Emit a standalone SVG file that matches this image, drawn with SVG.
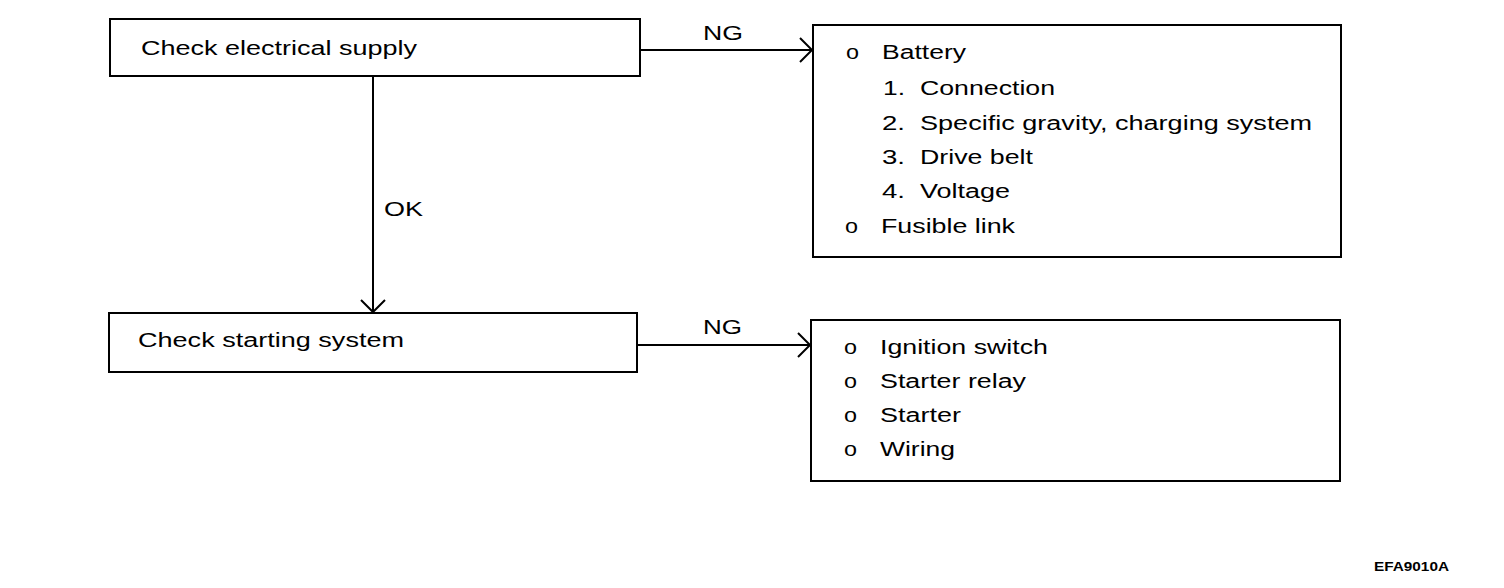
<svg xmlns="http://www.w3.org/2000/svg" width="1504" height="588" viewBox="0 0 1504 588">
<style>
.box{fill:#fff;stroke:#000;stroke-width:2}
.ln{fill:none;stroke:#000;stroke-width:2}
text{font-family:"Liberation Sans",Arial,Helvetica,sans-serif;font-size:20px;fill:#000}
.code{font-size:12.5px;font-weight:bold}
</style>
<defs>
<marker id="arr" markerUnits="userSpaceOnUse" markerWidth="30" markerHeight="30" refX="15" refY="15" orient="auto" overflow="visible">
<path d="M3,3 L15,15 L3,27" fill="none" stroke="#000" stroke-width="2"/>
</marker>
</defs>
<rect width="1504" height="588" fill="#fff"/>
<g id="connectors">
<line class="ln" x1="640" y1="50" x2="812" y2="50" marker-end="url(#arr)"/>
<line class="ln" x1="373" y1="76" x2="373" y2="312" marker-end="url(#arr)"/>
<line class="ln" x1="637" y1="345" x2="810" y2="345" marker-end="url(#arr)"/>
<text x="703" y="40" textLength="40" lengthAdjust="spacingAndGlyphs">NG</text>
<text x="384" y="216" textLength="39" lengthAdjust="spacingAndGlyphs">OK</text>
<text x="703" y="334" textLength="39" lengthAdjust="spacingAndGlyphs">NG</text>
</g>
<g id="n-check-electrical">
<rect class="box" x="110" y="19" width="530" height="57"/>
<text x="141" y="55" textLength="276" lengthAdjust="spacingAndGlyphs">Check electrical supply</text>
</g>
<g id="n-battery">
<rect class="box" x="813" y="25" width="528" height="232"/>
<text x="846" y="59" textLength="13" lengthAdjust="spacingAndGlyphs">o</text>
<text x="882" y="59" textLength="84" lengthAdjust="spacingAndGlyphs">Battery</text>
<text x="883" y="95" textLength="22" lengthAdjust="spacingAndGlyphs">1.</text>
<text x="920" y="95" textLength="135" lengthAdjust="spacingAndGlyphs">Connection</text>
<text x="882" y="130" textLength="23" lengthAdjust="spacingAndGlyphs">2.</text>
<text x="920" y="130" textLength="392" lengthAdjust="spacingAndGlyphs">Specific gravity, charging system</text>
<text x="882" y="164" textLength="23" lengthAdjust="spacingAndGlyphs">3.</text>
<text x="920" y="164" textLength="113" lengthAdjust="spacingAndGlyphs">Drive belt</text>
<text x="882" y="198" textLength="23" lengthAdjust="spacingAndGlyphs">4.</text>
<text x="920" y="198" textLength="90" lengthAdjust="spacingAndGlyphs">Voltage</text>
<text x="845" y="233" textLength="13" lengthAdjust="spacingAndGlyphs">o</text>
<text x="881" y="233" textLength="134" lengthAdjust="spacingAndGlyphs">Fusible link</text>
</g>
<g id="n-check-starting">
<rect class="box" x="109" y="313" width="528" height="59"/>
<text x="138" y="347" textLength="266" lengthAdjust="spacingAndGlyphs">Check starting system</text>
</g>
<g id="n-starting">
<rect class="box" x="811" y="320" width="529" height="161"/>
<text x="844" y="354" textLength="13" lengthAdjust="spacingAndGlyphs">o</text>
<text x="880" y="354" textLength="168" lengthAdjust="spacingAndGlyphs">Ignition switch</text>
<text x="844" y="388" textLength="13" lengthAdjust="spacingAndGlyphs">o</text>
<text x="880" y="388" textLength="146" lengthAdjust="spacingAndGlyphs">Starter relay</text>
<text x="844" y="422" textLength="13" lengthAdjust="spacingAndGlyphs">o</text>
<text x="880" y="422" textLength="81" lengthAdjust="spacingAndGlyphs">Starter</text>
<text x="844" y="456" textLength="13" lengthAdjust="spacingAndGlyphs">o</text>
<text x="880" y="456" textLength="75" lengthAdjust="spacingAndGlyphs">Wiring</text>
</g>
<text class="code" x="1374" y="571" textLength="75" lengthAdjust="spacingAndGlyphs">EFA9010A</text>
</svg>
